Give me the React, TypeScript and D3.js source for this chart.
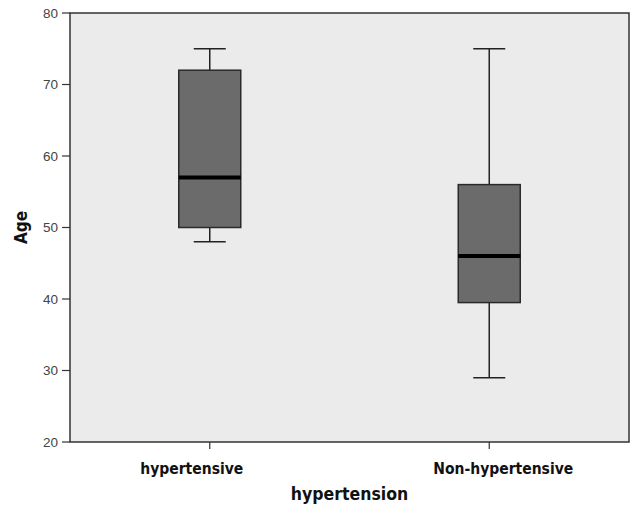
import React from "react";
import * as d3 from "d3";

const categories = ["hypertensive", "Non-hypertensive"];
const whiskerLow = [48, 29];
const q1 = [50, 39.5];
const medians = [57, 46];
const q3 = [72, 56];
const whiskerHigh = [75, 75];
const yTicks = [20, 30, 40, 50, 60, 70, 80];

const W = 632;
const H = 506;
const m = { left: 70, top: 13, right: 3, bottom: 64 };
// horizontal offsets of the category labels relative to their ticks (as in the reference)
const labelShift = [-18, 14];

export default function App() {
  const x = d3
    .scaleBand<string>()
    .domain(categories)
    .range([m.left, W - m.right])
    .padding(0);
  const y = d3.scaleLinear().domain([20, 80]).range([H - m.bottom, m.top]);
  const bw = 62;
  const cap = 32;
  const font = "'Liberation Sans', Arial, sans-serif";
  const boldFont = "'DejaVu Sans Condensed', 'Liberation Sans', sans-serif";

  return (
    <svg
      width={W}
      height={H}
      style={{ position: "absolute", left: 0, top: 0, background: "#fff" }}
    >
      <rect
        x={m.left}
        y={m.top}
        width={W - m.right - m.left}
        height={H - m.bottom - m.top}
        fill="#ebebeb"
        stroke="#333"
        strokeWidth={1.5}
      />
      {yTicks.map((t) => (
        <g key={t}>
          <line x1={m.left - 8} x2={m.left} y1={y(t)} y2={y(t)} stroke="#333" strokeWidth={1.2} />
          <text
            x={m.left - 12}
            y={y(t)}
            dy="0.35em"
            textAnchor="end"
            fontFamily={font}
            fontSize={13.5}
            fill="#444"
          >
            {t}
          </text>
        </g>
      ))}
      {categories.map((c, i) => {
        const cx = (x(c) as number) + x.bandwidth() / 2;
        return (
          <g key={c}>
            <line
              x1={cx}
              x2={cx}
              y1={H - m.bottom}
              y2={H - m.bottom + 7}
              stroke="#333"
              strokeWidth={1.2}
            />
            <text
              x={cx + labelShift[i]}
              y={474}
              textAnchor="middle"
              fontFamily={boldFont}
              fontWeight="bold"
              fontSize={15.5}
              fill="#111"
            >
              {c}
            </text>
            <line x1={cx} x2={cx} y1={y(whiskerHigh[i])} y2={y(q3[i])} stroke="#222" strokeWidth={1.5} />
            <line x1={cx} x2={cx} y1={y(q1[i])} y2={y(whiskerLow[i])} stroke="#222" strokeWidth={1.5} />
            <line
              x1={cx - cap / 2}
              x2={cx + cap / 2}
              y1={y(whiskerHigh[i])}
              y2={y(whiskerHigh[i])}
              stroke="#222"
              strokeWidth={1.5}
            />
            <line
              x1={cx - cap / 2}
              x2={cx + cap / 2}
              y1={y(whiskerLow[i])}
              y2={y(whiskerLow[i])}
              stroke="#222"
              strokeWidth={1.5}
            />
            <rect
              x={cx - bw / 2}
              y={y(q3[i])}
              width={bw}
              height={y(q1[i]) - y(q3[i])}
              fill="#6b6b6b"
              stroke="#2a2a2a"
              strokeWidth={1.5}
            />
            <line
              x1={cx - bw / 2}
              x2={cx + bw / 2}
              y1={y(medians[i])}
              y2={y(medians[i])}
              stroke="#000"
              strokeWidth={4}
            />
          </g>
        );
      })}
      <text
        x={m.left + (W - m.right - m.left) / 2}
        y={500}
        textAnchor="middle"
        fontFamily={boldFont}
        fontWeight="bold"
        fontSize={17.5}
        fill="#111"
      >
        hypertension
      </text>
      <text
        transform={`translate(27, ${y(50)}) rotate(-90)`}
        textAnchor="middle"
        fontFamily={boldFont}
        fontWeight="bold"
        fontSize={17}
        fill="#111"
      >
        Age
      </text>
    </svg>
  );
}
